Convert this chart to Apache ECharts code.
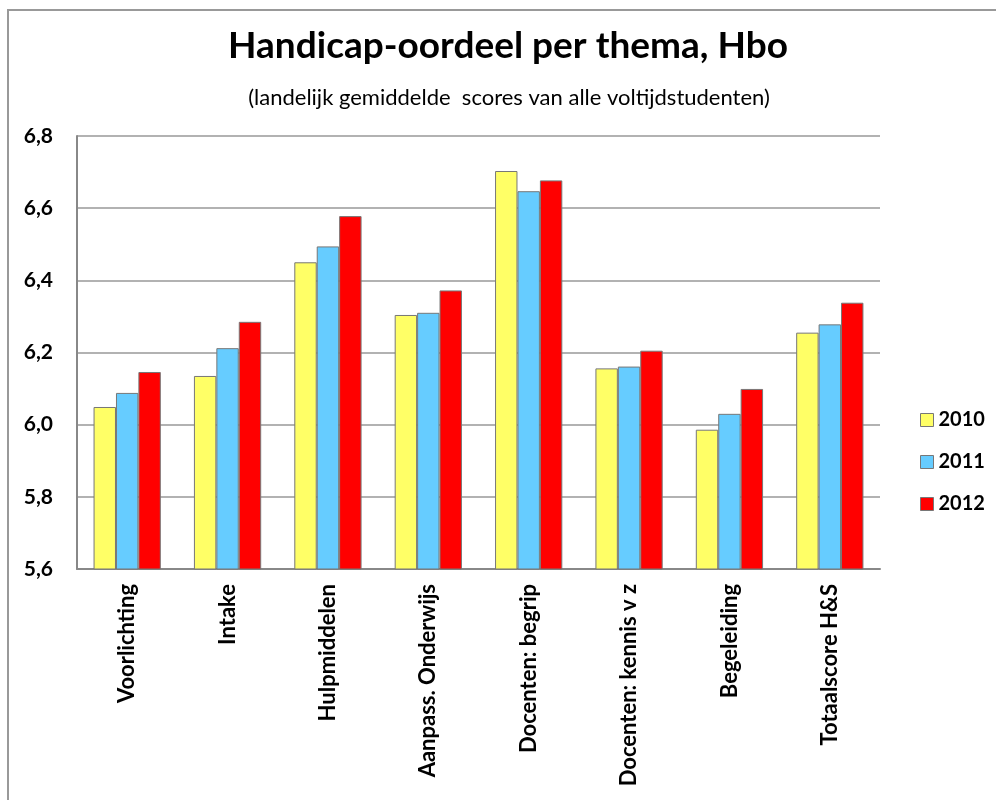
<!DOCTYPE html>
<html>
<head>
<meta charset="utf-8">
<script src="https://cdn.jsdelivr.net/npm/echarts@6/dist/echarts.min.js"></script>
<style>
html,body{margin:0;padding:0;background:#fff;}
#chart{width:996px;height:800px;}
</style>
</head>
<body>
<div id="chart"></div>
<script>
const categories = ["Voorlichting", "Intake", "Hulpmiddelen", "Aanpass. Onderwijs", "Docenten: begrip", "Docenten: kennis v z", "Begeleiding", "Totaalscore H&S"];
const years = ["2010", "2011", "2012"];
const values2010 = [6.049, 6.135, 6.450, 6.304, 6.703, 6.156, 5.986, 6.255];
const values2011 = [6.088, 6.212, 6.494, 6.310, 6.647, 6.161, 6.030, 6.278];
const values2012 = [6.146, 6.285, 6.578, 6.372, 6.677, 6.205, 6.099, 6.338];
const yTicks = [5.6, 5.8, 6.0, 6.2, 6.4, 6.6, 6.8];
const titleText = "Handicap-oordeel per thema, Hbo";
const subtitleText = "(landelijk gemiddelde  scores van alle voltijdstudenten)";

const colors = ["#FFFF66", "#66CCFF", "#FF0000"];
const seriesValues = [values2010, values2011, values2012];
const titleFont = "Lato, 'Open Sans', sans-serif";

const chart = echarts.init(document.getElementById('chart'), null, {renderer: 'canvas'});
chart.setOption({
  backgroundColor: '#fff',
  animation: false,
  graphic: [
    {type: 'polyline', shape: {points: [[8, 800], [8, 10], [996, 10]]}, style: {stroke: '#999', lineWidth: 2, fill: null}},
    {type: 'text', x: 508, y: 65, style: {text: titleText, font: "bold 37px " + titleFont, fill: '#000', textAlign: 'center', textVerticalAlign: 'bottom'}},
    {type: 'text', x: 509, y: 109, style: {text: subtitleText, font: "22px " + titleFont, fill: '#000', textAlign: 'center', textVerticalAlign: 'bottom'}}
  ],
  legend: {
    orient: 'vertical',
    left: 915,
    top: 405,
    itemWidth: 13,
    itemHeight: 13,
    itemGap: 22,
    itemStyle: {borderColor: '#777', borderWidth: 1},
    icon: 'rect',
    textStyle: {fontFamily: titleFont, fontWeight: 'bold', fontSize: 20, color: '#000'},
    data: years
  },
  grid: {left: 77, right: 116, top: 136, bottom: 231},
  xAxis: {
    type: 'category',
    data: categories,
    axisLine: {lineStyle: {color: '#888', width: 2}},
    axisTick: {show: false},
    axisLabel: {rotate: 90, interval: 0, margin: 15, fontFamily: titleFont, fontWeight: 'bold', fontSize: 22, color: '#000'}
  },
  yAxis: {
    type: 'value',
    min: 5.6, max: 6.8, interval: 0.2,
    axisLine: {show: true, lineStyle: {color: '#888', width: 2}},
    axisTick: {show: false},
    splitLine: {lineStyle: {color: '#999', width: 1.5}},
    axisLabel: {margin: 24, fontFamily: titleFont, fontWeight: 'bold', fontSize: 21, color: '#000',
      formatter: v => v.toFixed(1).replace('.', ',')}
  },
  series: years.map((y, i) => ({
    name: y,
    type: 'bar',
    data: seriesValues[i],
    barGap: '0%',
    barCategoryGap: '33%',
    itemStyle: {color: colors[i], borderColor: '#777', borderWidth: 1}
  }))
});
</script>
</body>
</html>
